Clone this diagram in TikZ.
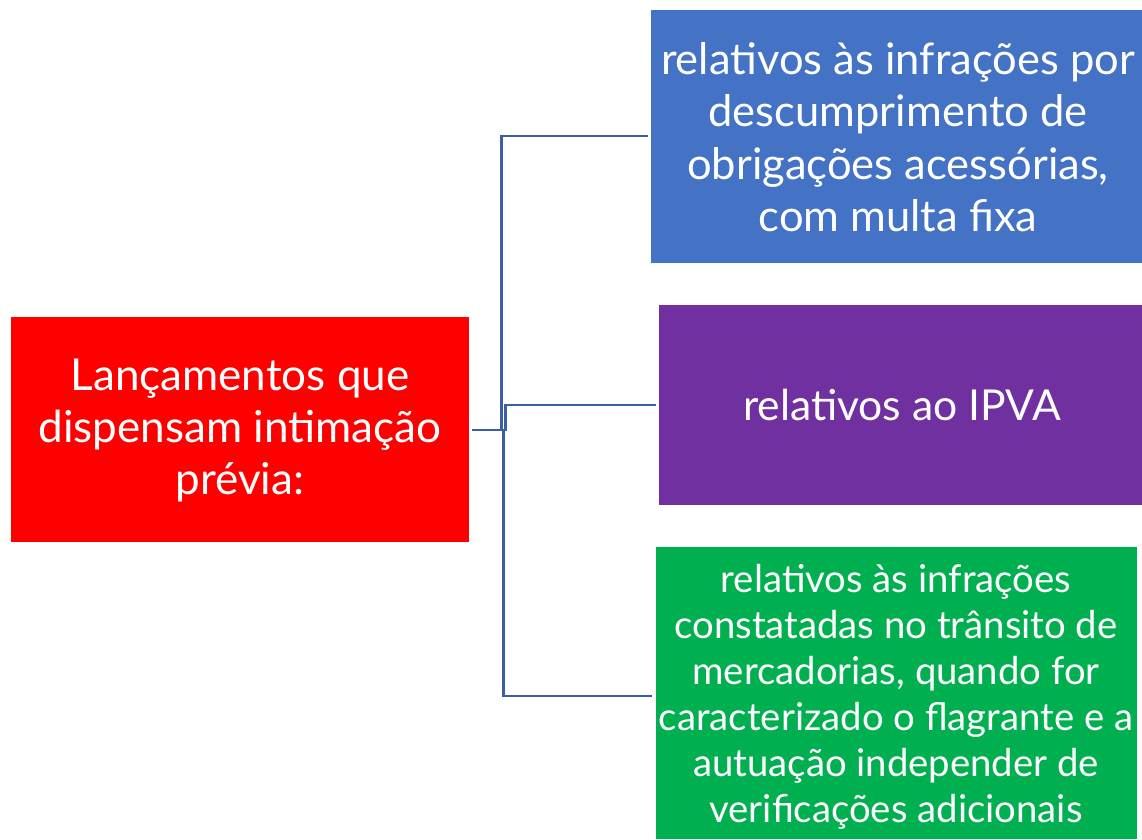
\documentclass[tikz,border=0pt]{standalone}
\usepackage{fontspec}
\setmainfont{Lato}
\definecolor{cblue}{HTML}{4472C4}
\definecolor{cpurple}{HTML}{7030A0}
\definecolor{cgreen}{HTML}{00B050}
\definecolor{cred}{HTML}{FF0000}
\definecolor{cline}{HTML}{3A5FA6}
\begin{document}
\begin{tikzpicture}[x=1pt,y=-1pt,
  box/.style={inner sep=0pt, text=white, align=center, font=\fontsize{43.5}{52.5}\selectfont},
  small/.style={font=\fontsize{38.3}{46}\selectfont},
  conn/.style={draw=cline, line width=2.5pt}]
\useasboundingbox (0,0) rectangle (1142,839);
\fill[cred] (11,317) rectangle (469,542);
\node[box, font=\fontsize{44}{52}\selectfont] (src) at (240,430) {Lançamentos que\\dispensam intimação\\prévia:};
\fill[cblue] (651,10) rectangle (1142,263);
\node[box] (a) at (898,137) {relativos às infrações por\\descumprimento de\\obrigações acessórias,\\com multa fixa};
\fill[cpurple] (659,305) rectangle (1142,505);
\node[box, font=\fontsize{42.6}{52}\selectfont] (b) at (902,405) {relativos ao IPVA};
\fill[cgreen] (656,547) rectangle (1137,839);
\node[box, small] (c) at (896,697) {relativos às infrações\\constatadas no trânsito de\\mercadorias, quando for\\caracterizado o flagrante e a\\autuação independer de\\verificações adicionais};
\coordinate (s) at (472,430);
\coordinate (ea) at (648,136);
\coordinate (eb) at (656,405);
\coordinate (ec) at (652,696);
\draw[conn] (s) -- (501.5,430) |- (ea);
\draw[conn] (s) -- (505.5,430) |- (eb);
\draw[conn] (501.5,430) -- (503.5,430) |- (ec);
\end{tikzpicture}
\end{document}
